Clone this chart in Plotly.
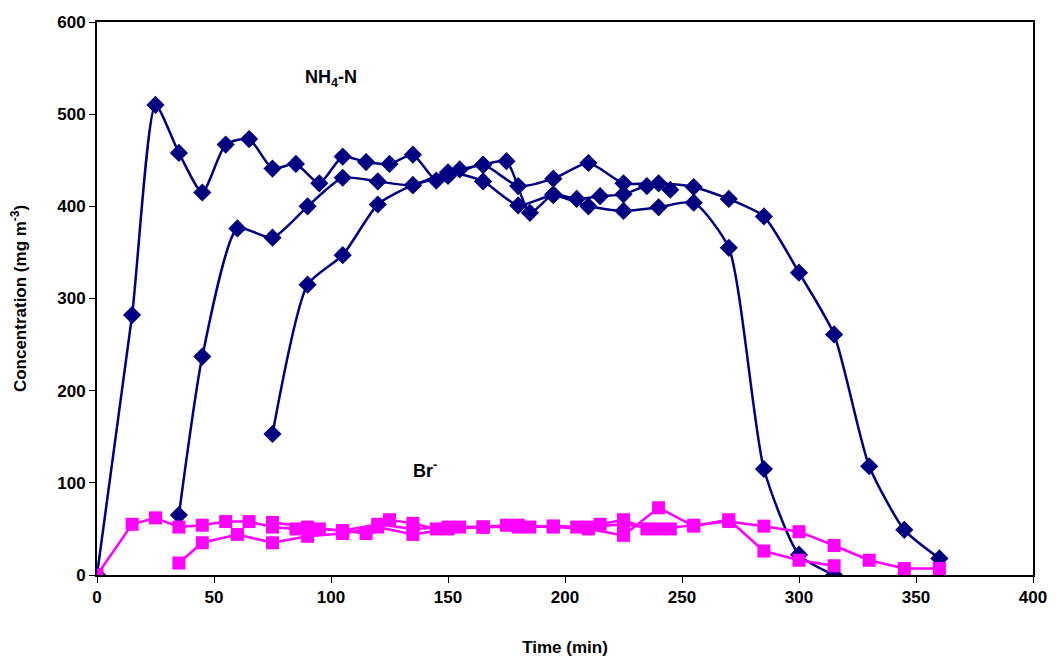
import plotly.graph_objects as go

# NH4-N runs
nh_t1 = [0, 15, 25, 35, 45, 55, 65, 75, 85, 95, 105, 115, 125, 135, 145, 155, 165, 175, 185, 195, 205, 215, 225, 235, 245]
nh_c1 = [0, 282, 510, 458, 415, 467, 473, 441, 446, 425, 454, 448, 446, 456, 428, 440, 445, 449, 393, 413, 408, 411, 413, 422, 418]
nh_t2 = [35, 45, 60, 75, 90, 105, 120, 135, 150, 165, 180, 195, 210, 225, 240, 255, 270, 285, 300, 315]
nh_c2 = [65, 237, 376, 366, 400, 431, 427, 423, 437, 427, 401, 412, 400, 395, 399, 404, 355, 115, 22, 0]
nh_t3 = [75, 90, 105, 120, 135, 150, 165, 180, 195, 210, 225, 240, 255, 270, 285, 300, 315, 330, 345, 360]
nh_c3 = [153, 315, 347, 402, 423, 433, 445, 422, 430, 447, 425, 425, 421, 408, 389, 328, 261, 118, 49, 18]

# Br- runs
br_t1 = nh_t1
br_c1 = [0, 55, 62, 52, 54, 58, 58, 52, 50, 50, 48, 45, 60, 56, 50, 52, 52, 54, 52, 53, 52, 55, 60, 50, 50]
br_t2 = nh_t2
br_c2 = [13, 35, 44, 35, 42, 45, 52, 44, 50, 52, 54, 52, 50, 43, 73, 53, 60, 26, 16, 10]
br_t3 = nh_t3
br_c3 = [57, 52, 48, 55, 50, 52, 52, 52, 53, 52, 55, 50, 54, 58, 53, 47, 32, 16, 7, 7]

navy = '#000080'
pink = '#FF00FF'

fig = go.Figure()
for t, c in [(nh_t1, nh_c1), (nh_t2, nh_c2), (nh_t3, nh_c3)]:
    fig.add_trace(go.Scatter(x=t, y=c, mode='lines+markers',
                             line=dict(color=navy, width=2.5, shape='spline', smoothing=0.6),
                             marker=dict(symbol='diamond', size=14, color=navy)))
for t, c in [(br_t1, br_c1), (br_t2, br_c2), (br_t3, br_c3)]:
    fig.add_trace(go.Scatter(x=t, y=c, mode='lines+markers',
                             line=dict(color=pink, width=2.5),
                             marker=dict(symbol='square', size=13, color=pink)))

fig.add_annotation(x=100, y=539, text='<b>NH<sub>4</sub>-N</b>', showarrow=False,
                   font=dict(size=18, color='black'))
fig.add_annotation(x=140, y=114, text='<b>Br<sup>-</sup></b>', showarrow=False,
                   font=dict(size=18, color='black'))

axis_common = dict(showgrid=False, zeroline=False, showline=True, linecolor='black',
                   linewidth=2, mirror=True, ticks='outside', tickcolor='black', ticklen=6,
                   tickfont=dict(size=17, family='Arial', color='black'))
fig.update_xaxes(range=[0, 400], dtick=50,
                 title=dict(text='<b>Time (min)</b>', font=dict(size=17), standoff=35),
                 tickprefix='<b>', ticksuffix='</b>', **axis_common)
fig.update_yaxes(range=[0, 600], dtick=100,
                 title=dict(text='<b>Concentration (mg m<sup>-3</sup>)</b>', font=dict(size=17), standoff=26),
                 tickprefix='<b>', ticksuffix='</b>', **axis_common)
fig.update_layout(width=1059, height=662, showlegend=False, plot_bgcolor='white',
                  paper_bgcolor='white', font=dict(family='Arial', color='black'),
                  margin=dict(l=89, r=34, t=14, b=95, autoexpand=False))

fig.write_html("out.html")
